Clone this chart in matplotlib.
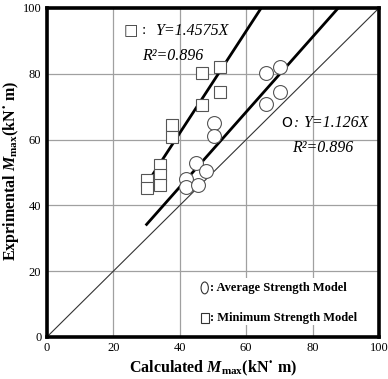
import matplotlib
matplotlib.use("Agg")
import matplotlib.pyplot as plt
import numpy as np
from matplotlib.patches import Rectangle, Ellipse

# ---- data ----
sq_x = [30.0, 30.0, 34.0, 34.0, 34.0, 37.8, 37.8, 46.8, 46.8, 52.2, 52.2]
sq_y = [47.7, 45.2, 52.3, 49.2, 46.2, 64.5, 60.8, 80.2, 70.5, 82.2, 74.6]
ci_x = [41.9, 41.9, 44.8, 45.4, 47.9, 50.4, 50.4, 66.1, 66.1, 70.1, 70.1]
ci_y = [48.0, 45.7, 53.0, 46.3, 50.5, 65.0, 61.1, 80.1, 70.7, 82.1, 74.6]
sq_fit_slope = 1.55     # drawn slope of the square fit line
ci_fit_slope = 1.14     # drawn slope of the circle fit line
fit_x_start = 30.0
ticks = [0, 20, 40, 60, 80, 100]

plt.rcParams['font.family'] = ['Liberation Serif', 'DejaVu Sans']
plt.rcParams['mathtext.fontset'] = 'custom'
plt.rcParams['mathtext.rm'] = 'Liberation Serif:bold'
plt.rcParams['mathtext.it'] = 'Liberation Serif:italic:bold'
plt.rcParams['mathtext.bf'] = 'Liberation Serif:bold'

fig = plt.figure(figsize=(3.88, 3.79), dpi=100)
ax = fig.add_axes([0.121, 0.111, 0.856, 0.868])
ax.set_xlim(0, 100)
ax.set_ylim(0, 100)
ax.set_xticks(ticks)
ax.set_yticks(ticks)
ax.tick_params(length=0, labelsize=9, pad=4)
ax.grid(True, color='#a0a0a0', linewidth=0.9)
ax.set_axisbelow(True)
for s in ax.spines.values():
    s.set_linewidth(2.6)
    s.set_color('black')

# identity line
ax.plot([0, 100], [0, 100], color='#333333', lw=0.8, zorder=2)
# fit lines
xs = np.array([fit_x_start, 100 / sq_fit_slope])
ax.plot(xs, sq_fit_slope * xs, color='black', lw=2.0, zorder=2)
xc = np.array([fit_x_start, 100 / ci_fit_slope])
ax.plot(xc, ci_fit_slope * xc, color='black', lw=2.0, zorder=2)

ax.plot(sq_x, sq_y, ls='none', marker='s', ms=8, mfc='white', mec='#555555', mew=0.8, zorder=3)
ax.plot(ci_x, ci_y, ls='none', marker='o', ms=10, mfc='white', mec='#555555', mew=0.8, zorder=3)

# annotations
ax.text(23.2, 93.0, '□', family=['DejaVu Sans'], fontsize=11, va='center', ha='left', color='#333333')
ax.text(28.6, 93.0, ':', fontsize=11, va='center', ha='left')
ax.text(32.5, 93.0, 'Y=1.4575X', style='italic', fontsize=11.5, va='center', ha='left')
ax.text(28.6, 85.4, 'R²=0.896', style='italic', fontsize=11.5, va='center', ha='left')

ax.text(70.6, 65.0, 'O', family=['DejaVu Sans'], fontsize=10, va='center', ha='left')
ax.text(74.3, 65.0, ':', style='italic', fontsize=11, va='center', ha='left')
ax.text(77.2, 65.0, 'Y=1.126X', style='italic', fontsize=11.5, va='center', ha='left')
ax.text(73.8, 57.4, 'R²=0.896', style='italic', fontsize=11.5, va='center', ha='left')

# legend area
ax.add_patch(Rectangle((45.0, 3.6), 53.5, 14.3, facecolor='white', edgecolor='none', zorder=2.5))
ax.add_patch(Ellipse((47.5, 14.9), 2.2, 3.6, facecolor='white', edgecolor='#333333', lw=0.8, zorder=4))
ax.text(49.0, 14.9, ': Average Strength Model', fontweight='bold', fontsize=9, va='center', ha='left', zorder=4)
ax.add_patch(Rectangle((46.4, 4.2), 2.3, 3.2, facecolor='white', edgecolor='#333333', lw=0.8, zorder=4))
ax.text(49.0, 5.8, ': Minimum Strength Model', fontweight='bold', fontsize=9, va='center', ha='left', zorder=4)

fig.text(213 / 388, 1 - 368 / 379, r'Calculated $M_{\mathrm{max}}$(kN˙ m)', fontweight='bold',
         fontsize=11.5, ha='center', va='center')
fig.text(11 / 388, 1 - 171 / 379, r'Exprimental $M_{\mathrm{max}}$(kN˙ m)', fontweight='bold',
         fontsize=11.5, ha='center', va='center', rotation=90)

fig.savefig('out.png', dpi=100)
